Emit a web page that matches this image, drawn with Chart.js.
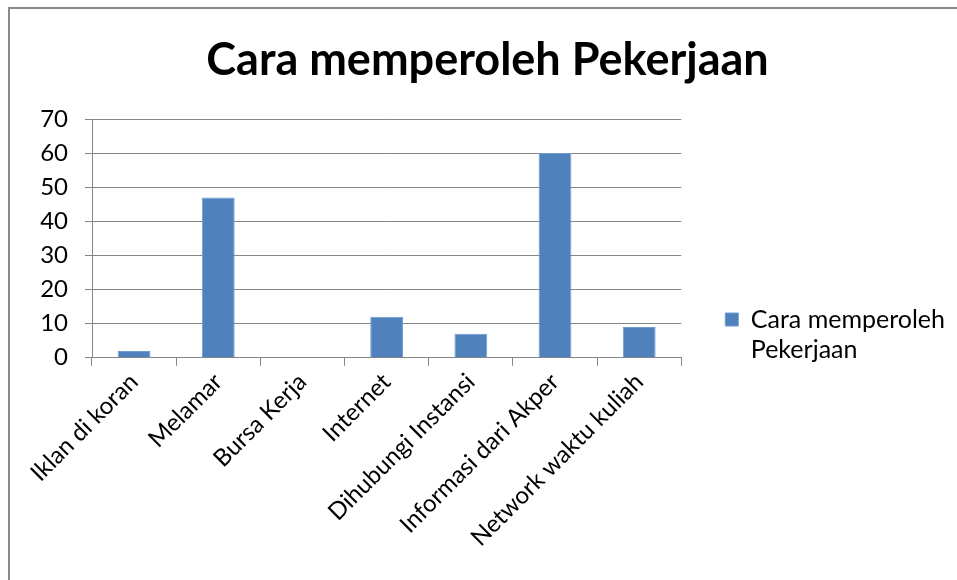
<!DOCTYPE html>
<html>
<head>
<meta charset="utf-8">
<script src="https://cdn.jsdelivr.net/npm/chart.js@4"></script>
<style>
  html, body { margin: 0; padding: 0; background: #fff; overflow: hidden; }
  #bingkai {
    position: absolute; left: 8px; top: 7px; width: 960px; height: 580px;
    border-left: 2px solid #8a8a8a; border-top: 2px solid #8a8a8a;
  }
  #grafik { position: absolute; left: 0; top: 9px; }
</style>
</head>
<body>
<div id="bingkai"></div>
<canvas id="grafik" width="957" height="571"></canvas>
<script>
// data grafik
const kategori = ['Iklan di koran', 'Melamar', 'Bursa Kerja', 'Internet', 'Dihubungi Instansi', 'Informasi dari Akper', 'Network waktu kuliah'];
const jumlah = [2, 47, 0, 12, 7, 60, 9];
const judul = 'Cara memperoleh Pekerjaan';
const labelSeri = ['Cara memperoleh', 'Pekerjaan'];
const sumbuY = { min: 0, max: 70, step: 10 };

const huruf = 'Lato, "Open Sans", sans-serif';
const abu = '#868686';

new Chart(document.getElementById('grafik').getContext('2d'), {
  type: 'bar',
  data: {
    labels: kategori,
    datasets: [{
      label: labelSeri,
      data: jumlah,
      backgroundColor: '#4f81bd',
      borderColor: '#6f9bd0',
      borderWidth: 1,
      barPercentage: 0.39,
      categoryPercentage: 1
    }]
  },
  options: {
    responsive: false,
    animation: false,
    layout: { padding: { left: 20, right: 2, top: 0, bottom: 26 } },
    plugins: {
      title: {
        display: true,
        text: judul,
        color: '#000',
        font: { family: huruf, size: 45, weight: 'bold' },
        padding: { top: 24, bottom: 32 }
      },
      legend: {
        position: 'right',
        align: 'center',
        maxWidth: 320,
        // judul kosong cuma untuk menurunkan posisi legenda
        title: { display: true, text: '', font: { size: 10 }, padding: { top: 0, bottom: 99 } },
        labels: {
          color: '#000',
          font: { family: huruf, size: 25 },
          boxWidth: 13,
          boxHeight: 13,
          padding: 44
        }
      },
      tooltip: { enabled: false }
    },
    scales: {
      x: {
        offset: true,
        ticks: {
          color: '#000',
          font: { family: huruf, size: 24 },
          maxRotation: 45,
          minRotation: 45,
          padding: 2,
          autoSkip: false
        },
        grid: { offset: true, drawOnChartArea: false, drawTicks: true, tickLength: 8, color: abu },
        border: { color: abu, width: 1 }
      },
      y: {
        min: sumbuY.min,
        max: sumbuY.max,
        afterFit: (skala) => { skala.width = 72; },
        ticks: {
          stepSize: sumbuY.step,
          color: '#000',
          font: { family: huruf, size: 24 },
          padding: 17
        },
        grid: { color: abu, tickLength: 7 },
        border: { color: abu, width: 1 }
      }
    }
  }
});
</script>
</body>
</html>
